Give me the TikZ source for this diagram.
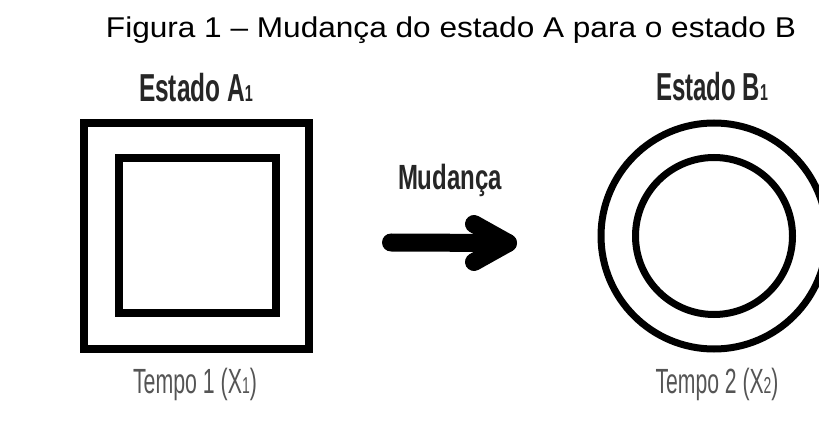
\documentclass[tikz,border=0pt]{standalone}
\usepackage{fontspec}
\usepackage{graphicx}
\setmainfont{Liberation Sans}
\definecolor{labdark}{HTML}{262626}
\definecolor{labgray}{HTML}{555555}
\tikzset{
  shapeline/.style={line width=7.5pt, draw=black},
  arrowline/.style={line width=18pt, line cap=round, line join=round, draw=black},
  statelabel/.style={anchor=base, inner sep=0pt, text=labdark, font=\bfseries\fontsize{39}{40}\selectfont},
  timelabel/.style={anchor=base, inner sep=0pt, text=labgray, font=\fontsize{35}{36}\selectfont},
  changelabel/.style={anchor=base, inner sep=0pt, text=labdark, font=\bfseries\fontsize{35}{36}\selectfont},
  titlelabel/.style={anchor=base, inner sep=0pt, text=black, font=\fontsize{28.6}{30}\selectfont}
}
\newcommand{\smalldig}[1]{{\fontsize{23}{23}\selectfont #1}}
\begin{document}
\begin{tikzpicture}[x=1pt,y=-1pt]
  \fill[white] (0,0) rectangle (819,427);
  \useasboundingbox (0,0) rectangle (819,427);
  \clip (0,0) rectangle (819,427);

  % title
  \node[titlelabel] (title) at (451,38) {\resizebox{690pt}{\height}{Figura 1 – Mudança do estado A para o estado B}};

  % state A
  \node[statelabel] (estA) at (196,102) {\resizebox{114pt}{\height}{Estado A\smalldig{1}}};
  \draw[shapeline] (84,123) rectangle (309,349);
  \draw[shapeline] (119,158) rectangle (276,313);
  \node[timelabel] (tempoA) at (195,393) {\resizebox{124pt}{\height}{Tempo 1 (X\smalldig{1})}};

  % change arrow
  \node[changelabel] (mud) at (450,190) {\resizebox{104pt}{\height}{Mudança}};
  \coordinate (shaftstart) at (391,242.5);
  \coordinate (tip) at (508,243);
  \coordinate (armtop) at (474,224);
  \coordinate (armbot) at (474,262);
  \draw[arrowline] (shaftstart) -- (tip);
  \draw[arrowline] (armtop) -- (tip) -- (armbot);

  % state B
  \node[statelabel] (estB) at (712,101) {\resizebox{112pt}{\height}{Estado B\smalldig{1}}};
  \coordinate (cB) at (714,236);
  \draw[line width=7pt] (cB) circle[radius=113];
  \draw[line width=7pt] (cB) circle[radius=78.5];
  \node[timelabel] (tempoB) at (717,393) {\resizebox{123pt}{\height}{Tempo 2 (X\smalldig{2})}};
\end{tikzpicture}
\end{document}
